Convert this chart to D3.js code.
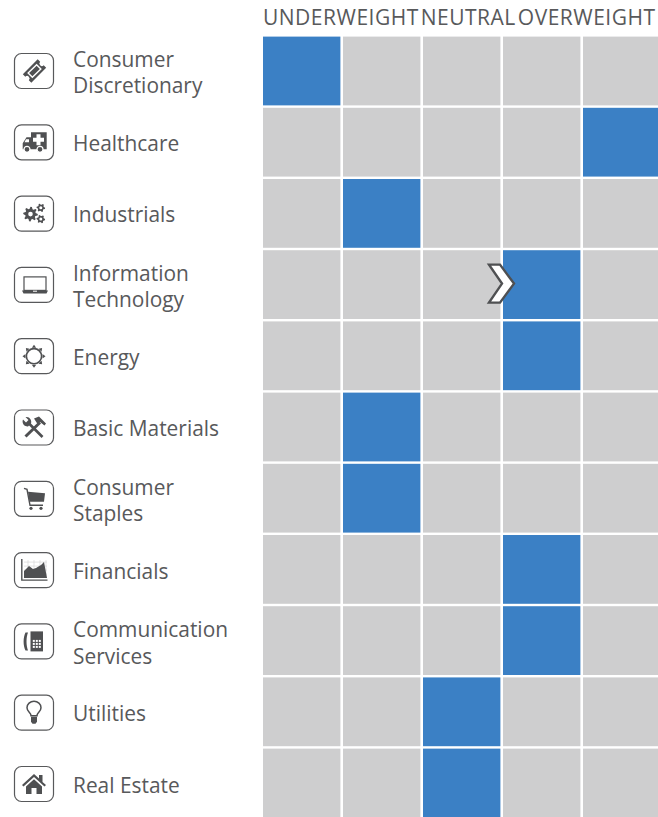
<!DOCTYPE html>
<html>
<head>
<meta charset="utf-8">
<title>Sector weights</title>
<script src="https://cdn.jsdelivr.net/npm/d3@7"></script>
<style>
  html, body { margin: 0; padding: 0; background: #fff; overflow: hidden; }
  text { font-family: "Open Sans", sans-serif; fill: #58595b; }
</style>
</head>
<body>
<script>
var w = 658
var h = 817

var sectors = ["Consumer Discretionary", "Healthcare", "Industrials", "Information Technology", "Energy",
    "Basic Materials", "Consumer Staples", "Financials", "Communication Services", "Utilities", "Real Estate"]
var labelLines = [["Consumer", "Discretionary"], ["Healthcare"], ["Industrials"], ["Information", "Technology"], ["Energy"],
    ["Basic Materials"], ["Consumer", "Staples"], ["Financials"], ["Communication", "Services"], ["Utilities"], ["Real Estate"]]
var iconNames = ["ticket", "ambulance", "gears", "laptop", "sun", "tools", "cart", "chart", "phone", "bulb", "house"]
// -2 underweight ... 2 overweight
var positions = [-2, -1, 0, 1, 2]
var sectorPosition = [-2, 2, -1, 1, 1, -1, -1, 1, 1, 0, 0]
var headerLabels = ["UNDERWEIGHT", "NEUTRAL", "OVERWEIGHT"]
var changedSector = "Information Technology"

var svg = d3.select("body").append("svg").attr("width", w).attr("height", h).style("display", "block")

var x = d3.scaleBand().domain(positions).range([263, 660.4]).paddingInner(0.0325)
var y = d3.scaleBand().domain(sectors).range([36.6, 817.4]).paddingInner(0.034)
// the icon column drifts a little from the grid rows in the original
var iconY = d3.scalePoint().domain(sectors).range([71, 784])

var cells = d3.cross(sectors, positions)
svg.append("g").selectAll("rect")
    .data(cells)
    .enter()
    .append("rect")
    .attr("x", function(d) { return x(d[1]) })
    .attr("y", function(d) { return y(d[0]) })
    .attr("width", x.bandwidth())
    .attr("height", y.bandwidth())
    .attr("fill", function(d) {
        return sectorPosition[sectors.indexOf(d[0])] === d[1] ? "#3b80c5" : "#cececf"
    })

// headers run on one after the other from the left edge of the grid
var headerX = x(positions[0])
svg.append("g").selectAll("text")
    .data(headerLabels)
    .enter()
    .append("text")
    .attr("y", 25)
    .attr("font-size", 21)
    .attr("letter-spacing", 0.5)
    .text(function(d) { return d })
    .each(function() {
        d3.select(this).attr("x", headerX)
        headerX += this.getComputedTextLength() + 2
    })

// row labels
var rows = svg.append("g").selectAll("g")
    .data(sectors)
    .enter()
    .append("g")
    .attr("transform", function(d) { return "translate(0," + iconY(d) + ")" })

rows.append("text")
    .attr("font-size", 20.9)
    .each(function(d, i) {
        var lines = labelLines[i]
        var t = d3.select(this)
        lines.forEach(function(l, k) {
            var base = lines.length === 1 ? 8.6 : (k === 0 ? -4 : 22.2)
            t.append("tspan").attr("x", 73).attr("y", base).text(l)
        })
    })

rows.append("rect")
    .attr("x", 14.5)
    .attr("y", -17.5)
    .attr("width", 39)
    .attr("height", 35)
    .attr("rx", 7)
    .attr("fill", "#fff")
    .attr("stroke", "#58595b")
    .attr("stroke-width", 1.2)

var dark = "#4f5052"

function gearPath(r, teeth) {
    var pts = []
    for (var i = 0; i < teeth * 4; i++) {
        var a = i / (teeth * 4) * 2 * Math.PI
        var rr = (i % 4 < 2) ? r : r * 0.72
        pts.push([rr * Math.cos(a), rr * Math.sin(a)])
    }
    return d3.line()(pts) + "Z"
}

var iconDraw = {
    ticket: function(g) {
        var t = g.append("g").attr("transform", "translate(0.5,0) rotate(-45)")
        t.append("path").attr("fill", dark)
            .attr("d", "M-10.5,-6 L10.5,-6 L10.5,-2.5 A2.5,2.5 0 0 0 10.5,2.5 L10.5,6 L-10.5,6 L-10.5,2.5 A2.5,2.5 0 0 0 -10.5,-2.5 Z")
        t.append("rect").attr("x", -6).attr("y", -3).attr("width", 12).attr("height", 6)
            .attr("fill", "none").attr("stroke", "#fff").attr("stroke-width", 1.4)
    },
    ambulance: function(g) {
        g.append("path").attr("fill", dark)
            .attr("d", "M-3,-10 L12.7,-10 L12.7,7 L-11.3,7 L-11.3,1 L-7.5,-5 L-3,-5 Z")
        g.append("path").attr("fill", "#fff")
            .attr("d", "M2.5,-8 h4 v3.5 h3.5 v4 h-3.5 v3.5 h-4 v-3.5 h-3.5 v-4 h3.5 Z")
        g.append("path").attr("fill", "#fff").attr("d", "M-8,-3 L-5,-3 L-5,0 L-9.5,0 Z")
        ;[-7, 6].forEach(function(cx) {
            g.append("circle").attr("cx", cx).attr("cy", 7).attr("r", 3)
                .attr("fill", dark).attr("stroke", "#fff").attr("stroke-width", 1.2)
        })
    },
    gears: function(g) {
        g.append("path").attr("d", gearPath(7.3, 8)).attr("transform", "translate(-3.5,0.5)").attr("fill", dark)
        g.append("circle").attr("cx", -3.5).attr("cy", 0.5).attr("r", 2.3).attr("fill", "#fff")
        ;[[6.8, -5.8], [6.8, 5.5]].forEach(function(p) {
            g.append("path").attr("d", gearPath(4.3, 6)).attr("transform", "translate(" + p + ")").attr("fill", dark)
            g.append("circle").attr("cx", p[0]).attr("cy", p[1]).attr("r", 1.5).attr("fill", "#fff")
        })
    },
    laptop: function(g) {
        g.append("rect").attr("x", -10).attr("y", -8).attr("width", 22).attr("height", 13.5)
            .attr("fill", "none").attr("stroke", dark).attr("stroke-width", 1.2)
        g.append("path").attr("fill", dark).attr("d", "M-12,5.5 L14,5.5 L12.5,8.5 L-10.5,8.5 Z")
        g.append("rect").attr("x", -1).attr("y", 5.8).attr("width", 4).attr("height", 1).attr("fill", "#fff")
    },
    sun: function(g) {
        g.append("circle").attr("r", 7.6).attr("fill", "none").attr("stroke", dark).attr("stroke-width", 1.6)
        d3.range(8).forEach(function(i) {
            g.append("path").attr("fill", dark).attr("d", "M-2.2,-8.5 L0,-11.5 L2.2,-8.5 Z")
                .attr("transform", "rotate(" + i * 45 + ")")
        })
    },
    tools: function(g) {
        // hammer
        g.append("path").attr("d", "M-8.5,9 L6,-5").attr("stroke", dark).attr("stroke-width", 3).attr("fill", "none")
        g.append("path").attr("fill", dark).attr("d", "M0,-9 L5,-11 L12,-4 L10.5,-2 L6,-5.5 L3.5,-3.5 Z")
        // wrench
        g.append("path").attr("d", "M8.5,9.5 L-6,-5").attr("stroke", dark).attr("stroke-width", 2.6).attr("fill", "none")
        g.append("path").attr("fill", dark).attr("d", "M-11,-8 L-8,-5 L-5.5,-7.5 L-8.5,-10.5 A5,5 0 0 1 -3,-4 L-6,-1 A5,5 0 0 1 -11,-8 Z")
    },
    cart: function(g) {
        g.append("path").attr("d", "M-10,-10.5 L-7,-9.5 L-4,6.5 L9,6.5").attr("fill", "none").attr("stroke", dark).attr("stroke-width", 1.4)
        g.append("path").attr("fill", dark).attr("d", "M-6,-7 L11,-5.5 L10,3 L-4.5,3 Z")
        ;[-3, 7].forEach(function(cx) {
            g.append("circle").attr("cx", cx).attr("cy", 9.5).attr("r", 1.6).attr("fill", dark)
        })
    },
    chart: function(g) {
        d3.range(4).forEach(function(i) {
            g.append("path").attr("d", "M" + (-6 + i * 6) + ",-10 V8").attr("stroke", "#d5d6d7").attr("stroke-width", 0.7)
            g.append("path").attr("d", "M-10," + (-8 + i * 4) + " H13").attr("stroke", "#d5d6d7").attr("stroke-width", 0.7)
        })
        g.append("path").attr("fill", dark).attr("d", "M-10,8 L-10,1 L-5,-4 L-1,-1 L2,-2 L7,-5 L10,-8 L13,8 Z")
        g.append("path").attr("d", "M-12.2,-11 L-12.2,10 L13.5,10").attr("fill", "none").attr("stroke", dark).attr("stroke-width", 1.4)
    },
    phone: function(g) {
        g.append("path").attr("fill", dark).attr("d", "M-6,-9 L-8.5,-9 C-11,-4 -11,4 -8.5,9 L-6,9 C-8,4 -8,-4 -6,-9 Z")
        g.append("rect").attr("x", -3.5).attr("y", -10).attr("width", 12.5).attr("height", 20).attr("fill", dark)
        d3.range(9).forEach(function(i) {
            g.append("rect").attr("x", -1.2 + (i % 3) * 3).attr("y", -1.5 + Math.floor(i / 3) * 3)
                .attr("width", 2).attr("height", 2).attr("fill", "#fff")
        })
    },
    bulb: function(g) {
        g.append("path").attr("fill", "none").attr("stroke", dark).attr("stroke-width", 1.5)
            .attr("d", "M-3,3 C-3,0 -7,-1 -7,-5 A7,6.5 0 0 1 7,-5 C7,-1 3,0 3,3 Z")
        g.append("path").attr("fill", dark).attr("d", "M-3,4 L3,4 L3,9 L1.5,11 L-1.5,11 L-3,9 Z")
    },
    house: function(g) {
        g.append("path").attr("fill", dark).attr("d", "M-12,1 L0,-10 L5,-5.5 L5,-9 L8.5,-9 L8.5,-2 L12,1 L10.5,2.5 L0,-7 L-10.5,2.5 Z")
        g.append("path").attr("fill", dark).attr("d", "M-8,2.5 L0,-4.7 L8,2.5 L8,10 L2.5,10 L2.5,4 L-2.5,4 L-2.5,10 L-8,10 Z")
    }
}

rows.append("g")
    .attr("transform", "translate(34,0)")
    .each(function(d, i) {
        iconDraw[iconNames[i]](d3.select(this))
    })

// chevron marking the change
var chevron = svg.append("path")
    .attr("d", "M-14,-19 L-3,-19 L11,0 L-3,19 L-14,19 L-1,0 Z")
    .attr("fill", "#fff")
    .attr("stroke", dark)
    .attr("stroke-width", 2.4)
    .attr("stroke-linejoin", "miter")
    .attr("transform", "translate(" + x(sectorPosition[sectors.indexOf(changedSector)]) + "," +
        (y(changedSector) + y.bandwidth() / 2 - 1) + ")")
</script>
</body>
</html>
